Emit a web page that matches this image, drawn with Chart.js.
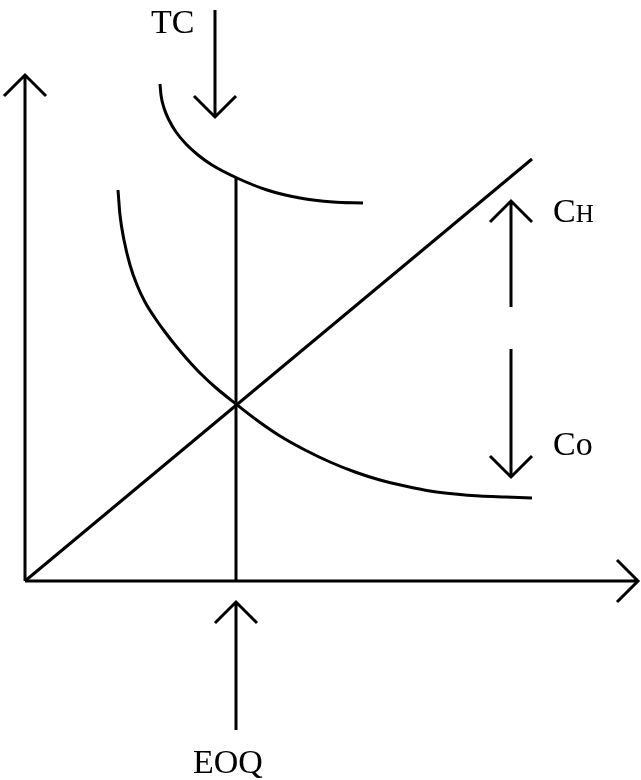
<!DOCTYPE html>
<html>
<head>
<meta charset="utf-8">
<script src="https://cdn.jsdelivr.net/npm/chart.js@4"></script>
<style>
  html, body { margin: 0; padding: 0; background: #fff; }
  #eoqChart { display: block; }
</style>
</head>
<body>
<canvas id="eoqChart" width="641" height="780"></canvas>
<script>
// EOQ diagram: quantity on x, cost on y (origin where the axes meet)
const labelTexts = ['TC', 'C', 'H', 'Co', 'EOQ'];

// holding cost line
const holdX = [0, 507];
const holdY = [0, 422];

// ordering cost curve
const orderX = [93, 95, 99, 105, 112, 120, 130, 140, 151, 162, 175, 190, 211, 233, 255, 280, 305, 330, 355, 380, 405, 430, 455, 481, 507];
const orderY = [391, 366, 341, 316, 296, 279, 263, 249, 235, 222, 208, 194, 177, 160, 145, 131, 119, 109, 101, 95, 90, 87, 85, 84, 83];

// total cost curve
const totalX = [135, 136, 139, 144, 151, 161, 173, 187, 212, 242, 275, 308, 338];
const totalY = [497, 486, 473, 461, 449, 437, 426, 416, 403, 391, 383, 379, 378];

// EOQ quantity and the cost at the crossing
const eoqX = [211, 211];
const eoqY = [0, 403];

// axes with arrow heads
const yAxisX = [0, 0, null, -21, 0, 21];
const yAxisY = [0, 506, null, 485, 506, 485];
const xAxisX = [0, 613, null, 592, 613, 592];
const xAxisY = [0, 0, null, 21, 0, -21];

// pointer arrows
const tcArrowX = [190, 190, null, 169, 190, 211];
const tcArrowY = [571, 464, null, 485, 464, 485];
const chArrowX = [486, 486, null, 465, 486, 507];
const chArrowY = [274, 380, null, 359, 380, 359];
const coArrowX = [486, 486, null, 465, 486, 507];
const coArrowY = [232, 104, null, 125, 104, 125];
const eoqArrowX = [211, 211, null, 190, 211, 232];
const eoqArrowY = [-149, -21, null, -42, -21, -42];

function pts(xs, ys) {
    return xs.map((x, i) => (x === null ? { x: NaN, y: NaN } : { x: x, y: ys[i] }));
}

function lineSet(xs, ys, smooth) {
    return {
        data: pts(xs, ys),
        showLine: true,
        spanGaps: false,
        borderColor: '#000',
        borderWidth: 3,
        pointRadius: 0,
        fill: false,
        tension: smooth ? 0.4 : 0,
        cubicInterpolationMode: smooth ? 'monotone' : 'default'
    };
}

const labelPlugin = {
    id: 'labels',
    afterDraw(chart) {
        const ctx = chart.ctx;
        const sx = chart.scales.x, sy = chart.scales.y;
        ctx.save();
        ctx.fillStyle = '#000';
        ctx.textBaseline = 'alphabetic';
        ctx.textAlign = 'left';
        ctx.font = '34px "Liberation Serif"';
        ctx.fillText(labelTexts[0], sx.getPixelForValue(126), sy.getPixelForValue(548));
        const cx = sx.getPixelForValue(528), cy = sy.getPixelForValue(359);
        ctx.fillText(labelTexts[1], cx, cy);
        const cw = ctx.measureText(labelTexts[1]).width;
        ctx.font = '25px "Liberation Serif"';
        ctx.fillText(labelTexts[2], cx + cw, cy);
        ctx.font = '34px "Liberation Serif"';
        ctx.fillText(labelTexts[3], sx.getPixelForValue(528), sy.getPixelForValue(126));
        ctx.fillText(labelTexts[4], sx.getPixelForValue(168), sy.getPixelForValue(-192));
        ctx.restore();
    }
};

new Chart(document.getElementById('eoqChart'), {
    type: 'scatter',
    data: {
        datasets: [
            lineSet(yAxisX, yAxisY),
            lineSet(xAxisX, xAxisY),
            lineSet(holdX, holdY),
            lineSet(orderX, orderY, true),
            lineSet(totalX, totalY, true),
            lineSet(eoqX, eoqY),
            lineSet(tcArrowX, tcArrowY),
            lineSet(chArrowX, chArrowY),
            lineSet(coArrowX, coArrowY),
            lineSet(eoqArrowX, eoqArrowY)
        ]
    },
    options: {
        responsive: false,
        animation: false,
        layout: { padding: 0 },
        plugins: { legend: { display: false }, tooltip: { enabled: false } },
        scales: {
            x: { type: 'linear', display: false, min: -25, max: 616 },
            y: { type: 'linear', display: false, min: -199, max: 581 }
        }
    },
    plugins: [labelPlugin]
});
</script>
</body>
</html>
